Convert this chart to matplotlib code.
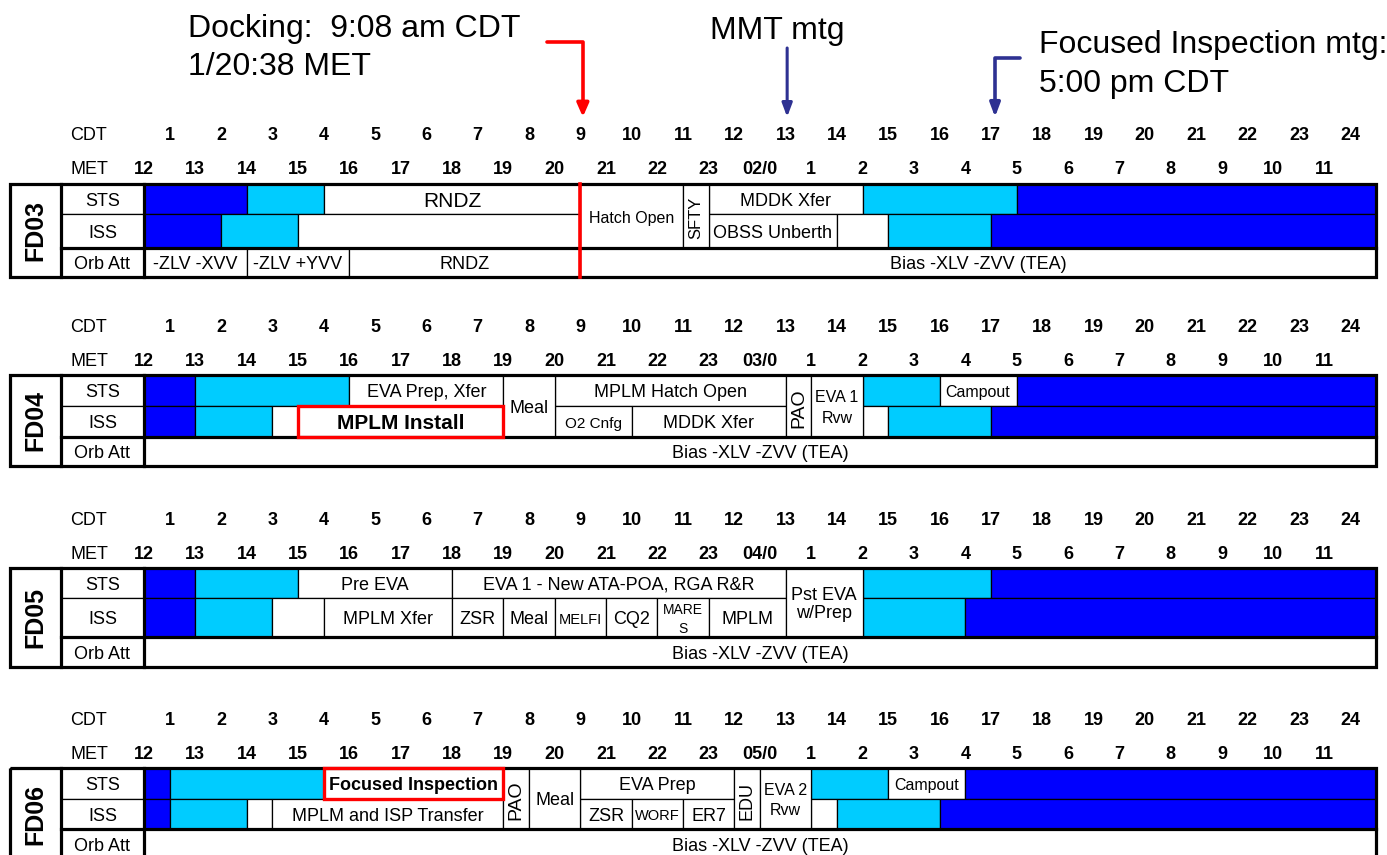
import matplotlib.pyplot as plt
from matplotlib.patches import Rectangle

plt.rcParams['font.family'] = ['Liberation Sans', 'DejaVu Sans']

DARK = '#0000FF'
LIGHT = '#00CCFF'
NAVY = '#2E3192'

# Time axis: MET clock hours, 12 .. 36 (36 = 12 on the next day)
cdt_labels = [str(h) for h in range(1, 25)]
met_before = [str(h) for h in range(12, 24)]
met_after = [str(h) for h in range(1, 12)]
days = ['FD03', 'FD04', 'FD05', 'FD06']
rollover = ['02/0', '03/0', '04/0', '05/0']

# (start MET hour, end MET hour, label); 'sleep' / 'prep' are shaded blocks
fd03_sts = [(12, 14, 'sleep'), (14, 15.5, 'prep'), (15.5, 20.5, 'RNDZ'),
            (23, 26, 'MDDK Xfer'), (26, 29, 'prep'), (29, 36, 'sleep')]
fd03_iss = [(12, 13.5, 'sleep'), (13.5, 15, 'prep'), (15, 20.5, ''),
            (23, 25.5, 'OBSS Unberth'), (25.5, 26.5, ''), (26.5, 28.5, 'prep'),
            (28.5, 36, 'sleep')]
fd03_both = [(20.5, 22.5, 'Hatch Open'), (22.5, 23, 'SFTY')]
fd03_orb = [(12, 14, '-ZLV -XVV'), (14, 16, '-ZLV +YVV'), (16, 20.5, 'RNDZ'),
            (20.5, 36, 'Bias -XLV -ZVV (TEA)')]

fd04_sts = [(12, 13, 'sleep'), (13, 16, 'prep'), (16, 19, 'EVA Prep, Xfer'),
            (20, 24.5, 'MPLM Hatch Open'), (26, 27.5, 'prep'), (27.5, 29, 'Campout'),
            (29, 36, 'sleep')]
fd04_iss = [(12, 13, 'sleep'), (13, 14.5, 'prep'), (14.5, 15, ''),
            (15, 19, 'MPLM Install'), (20, 21.5, 'O2 Cnfg'), (21.5, 24.5, 'MDDK Xfer'),
            (26, 26.5, ''), (26.5, 28.5, 'prep'), (28.5, 36, 'sleep')]
fd04_both = [(19, 20, 'Meal'), (24.5, 25, 'PAO'), (25, 26, 'EVA 1\nRvw')]
fd04_orb = [(12, 36, 'Bias -XLV -ZVV (TEA)')]

fd05_sts = [(12, 13, 'sleep'), (13, 15, 'prep'), (15, 18, 'Pre EVA'),
            (18, 24.5, 'EVA 1 - New ATA-POA, RGA R&R'), (26, 28.5, 'prep'),
            (28.5, 36, 'sleep')]
fd05_iss = [(12, 13, 'sleep'), (13, 14.5, 'prep'), (14.5, 15.5, ''),
            (15.5, 18, 'MPLM Xfer'), (18, 19, 'ZSR'), (19, 20, 'Meal'),
            (20, 21, 'MELFI'), (21, 22, 'CQ2'), (22, 23, 'MARE\nS'),
            (23, 24.5, 'MPLM'), (26, 28, 'prep'), (28, 36, 'sleep')]
fd05_both = [(24.5, 26, 'Pst EVA\nw/Prep')]
fd05_orb = [(12, 36, 'Bias -XLV -ZVV (TEA)')]

fd06_sts = [(12, 12.5, 'sleep'), (12.5, 15.5, 'prep'), (15.5, 19, 'Focused Inspection'),
            (20.5, 23.5, 'EVA Prep'), (25, 26.5, 'prep'), (26.5, 28, 'Campout'),
            (28, 36, 'sleep')]
fd06_iss = [(12, 12.5, 'sleep'), (12.5, 14, 'prep'), (14, 14.5, ''),
            (14.5, 19, 'MPLM and ISP Transfer'), (20.5, 21.5, 'ZSR'),
            (21.5, 22.5, 'WORF'), (22.5, 23.5, 'ER7'), (25, 25.5, ''),
            (25.5, 27.5, 'prep'), (27.5, 36, 'sleep')]
fd06_both = [(19, 19.5, 'PAO'), (19.5, 20.5, 'Meal'), (23.5, 24, 'EDU'),
             (24, 25, 'EVA 2\nRvw')]
fd06_orb = [(12, 36, 'Bias -XLV -ZVV (TEA)')]

schedule = [
    (fd03_sts, fd03_iss, fd03_both, fd03_orb),
    (fd04_sts, fd04_iss, fd04_both, fd04_orb),
    (fd05_sts, fd05_iss, fd05_both, fd05_orb),
    (fd06_sts, fd06_iss, fd06_both, fd06_orb),
]
highlighted = {'MPLM Install', 'Focused Inspection'}
docking_met = 20.5
mmt_met = 24.5
focused_met = 28.5

# layout (y in pixels, x in MET hours)
block_tops = [184, 375, 568, 768]
row_heights = [(30, 34, 29), (31, 31, 29), (30, 39, 30), (31, 30, 31)]
BOX_LEFT = 9.39
FD_SPLIT = 10.38
T0, T1 = 12, 36
TEXT_DROP = 2

font_size = {'RNDZ': 15, 'Hatch Open': 11.5, 'O2 Cnfg': 11, 'EVA 1\nRvw': 11.5,
             'EVA 2\nRvw': 11.5, 'Campout': 11.5, 'MELFI': 10.5, 'MARE\nS': 10,
             'WORF': 10.5, 'SFTY': 12, 'PAO': 14, 'EDU': 13,
             'MPLM Install': 15, 'Focused Inspection': 13}
line_spacing = {'EVA 1\nRvw': 1.45, 'EVA 2\nRvw': 1.45, 'MARE\nS': 1.4,
                'Pst EVA\nw/Prep': 1.15}
rotated = {'SFTY', 'PAO', 'EDU'}

fig = plt.figure(figsize=(13.87, 8.55), dpi=100)
ax = fig.add_axes([0, 0, 1, 1])
ax.set_xlim(9.195, 36.216)
ax.set_ylim(855, 0)
ax.axis('off')


def draw_cell(x0, x1, y0, y1, label, size=None):
    fill = {'sleep': DARK, 'prep': LIGHT}.get(label, 'white')
    ax.add_patch(Rectangle((x0, y0), x1 - x0, y1 - y0, facecolor=fill,
                           edgecolor='black', lw=0.9, zorder=1))
    if label in ('sleep', 'prep', ''):
        return
    bold = label in highlighted
    if size is None:
        size = font_size.get(label, 13)
    ax.text((x0 + x1) / 2, (y0 + y1) / 2 + TEXT_DROP, label, ha='center',
            va='center', fontsize=size, fontweight='bold' if bold else 'normal',
            rotation=90 if label in rotated else 0,
            linespacing=line_spacing.get(label, 1.2), zorder=5)
    if bold:
        ax.add_patch(Rectangle((x0, y0), x1 - x0, y1 - y0, fill=False,
                               edgecolor='red', lw=2.4, zorder=4))


for k, (sts, iss, both, orb) in enumerate(schedule):
    top = block_tops[k]
    h_sts, h_iss, h_orb = row_heights[k]
    y_iss = top + h_sts
    y_orb = y_iss + h_iss
    bottom = y_orb + h_orb

    # hour scales
    for i, lab in enumerate(cdt_labels):
        ax.text(T0 + 0.5 + i, top - 48, lab, ha='center', va='center',
                fontsize=13, fontweight='bold')
    met_labels = met_before + [rollover[k]] + met_after
    for i, lab in enumerate(met_labels):
        ax.text(T0 + i, top - 14, lab, ha='center', va='center',
                fontsize=13, fontweight='bold')
    ax.text(10.56, top - 48, 'CDT', ha='left', va='center', fontsize=13)
    ax.text(10.56, top - 14, 'MET', ha='left', va='center', fontsize=13)

    # label columns
    ax.add_patch(Rectangle((BOX_LEFT, top), FD_SPLIT - BOX_LEFT, bottom - top,
                           facecolor='white', edgecolor='black', lw=0.9))
    ax.text((BOX_LEFT + FD_SPLIT) / 2, (top + bottom) / 2, days[k], rotation=90,
            ha='center', va='center', fontsize=18, fontweight='bold', zorder=5)
    for name, y0, y1 in [('STS', top, y_iss), ('ISS', y_iss, y_orb),
                         ('Orb Att', y_orb, bottom)]:
        draw_cell(FD_SPLIT, T0, y0, y1, name, size=13)

    for x0, x1, lab in sts:
        draw_cell(x0, x1, top, y_iss, lab)
    for x0, x1, lab in iss:
        draw_cell(x0, x1, y_iss, y_orb, lab)
    for x0, x1, lab in both:
        draw_cell(x0, x1, top, y_orb, lab)
    for x0, x1, lab in orb:
        draw_cell(x0, x1, y_orb, bottom, lab, size=13)

    # heavy frame lines
    ax.add_patch(Rectangle((BOX_LEFT, top), T1 - BOX_LEFT, bottom - top,
                           fill=False, edgecolor='black', lw=2.3, zorder=3))
    ax.plot([FD_SPLIT, FD_SPLIT], [top, bottom], color='black', lw=2.3, zorder=3)
    ax.plot([T0, T0], [top, bottom], color='black', lw=2.3, zorder=3)
    ax.plot([FD_SPLIT, T1], [y_orb, y_orb], color='black', lw=2.3, zorder=3)

    if k == 0:
        ax.plot([docking_met, docking_met], [top, bottom], color='red', lw=2.6,
                zorder=4)

# annotations
ax.text(12.86, 37, 'Docking:  9:08 am CDT', fontsize=23, va='baseline')
ax.text(12.86, 75, '1/20:38 MET', fontsize=23, va='baseline')
ax.annotate('', xy=(docking_met + 0.05, 117), xytext=(19.85, 42),
            arrowprops=dict(arrowstyle='-|>,head_width=0.35,head_length=0.8',
                            connectionstyle='angle,angleA=0,angleB=90,rad=0',
                            color='red', lw=2.6, shrinkA=0, shrinkB=0))

ax.text(23.02, 39, 'MMT mtg', fontsize=23, va='baseline')
ax.annotate('', xy=(mmt_met + 0.03, 117), xytext=(mmt_met + 0.03, 48),
            arrowprops=dict(arrowstyle='-|>,head_width=0.3,head_length=0.8',
                            color=NAVY, lw=2.2, shrinkA=0, shrinkB=0))

ax.text(29.43, 53, 'Focused Inspection mtg:', fontsize=23, va='baseline')
ax.text(29.43, 92, '5:00 pm CDT', fontsize=23, va='baseline')
ax.annotate('', xy=(focused_met + 0.08, 117), xytext=(29.07, 58),
            arrowprops=dict(arrowstyle='-|>,head_width=0.3,head_length=0.8',
                            connectionstyle='angle,angleA=0,angleB=90,rad=0',
                            color=NAVY, lw=2.6, shrinkA=0, shrinkB=0))

fig.savefig('out.png', dpi=100)
